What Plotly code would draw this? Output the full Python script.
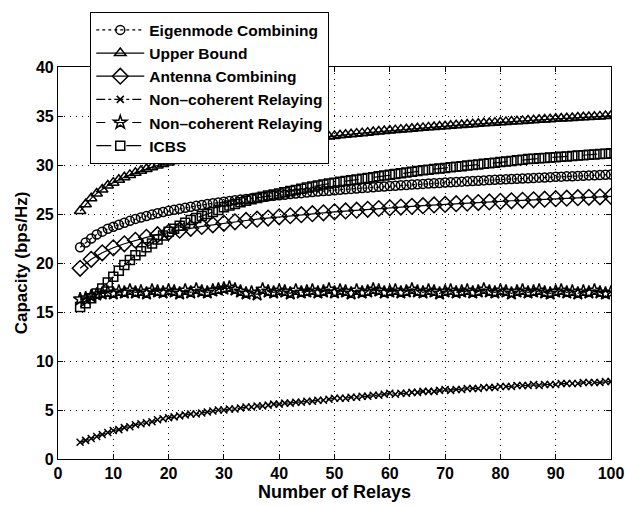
import plotly.graph_objects as go

relays = list(range(4, 101))
relays_even = list(range(4, 101, 2))

eigenmode = [21.6, 22.1, 22.5, 22.9, 23.2, 23.5, 23.7, 23.9, 24.1, 24.3,
             24.5, 24.65, 24.8, 24.94, 25.07, 25.2, 25.32, 25.43, 25.53, 25.64,
             25.74, 25.83, 25.92, 26.01, 26.09, 26.17, 26.25, 26.33, 26.4, 26.47,
             26.54, 26.61, 26.67, 26.73, 26.8, 26.86, 26.92, 26.97, 27.03, 27.08,
             27.13, 27.19, 27.24, 27.29, 27.34, 27.38, 27.43, 27.48, 27.52, 27.56,
             27.61, 27.65, 27.69, 27.73, 27.77, 27.81, 27.85, 27.89, 27.93, 27.96,
             28.0, 28.04, 28.07, 28.11, 28.14, 28.17, 28.21, 28.24, 28.27, 28.3,
             28.33, 28.37, 28.4, 28.43, 28.46, 28.49, 28.52, 28.54, 28.57, 28.6,
             28.63, 28.65, 28.68, 28.71, 28.73, 28.76, 28.79, 28.81, 28.84, 28.86,
             28.89, 28.91, 28.94, 28.96, 28.98, 29.01, 29.03]

upper_bound = [25.3, 26.0, 26.6, 27.1, 27.5, 27.9, 28.2, 28.5, 28.75, 28.99,
               29.2, 29.41, 29.6, 29.78, 29.95, 30.11, 30.26, 30.4, 30.54, 30.67,
               30.8, 30.92, 31.04, 31.15, 31.25, 31.36, 31.46, 31.56, 31.65, 31.74,
               31.83, 31.91, 32.0, 32.08, 32.16, 32.23, 32.31, 32.38, 32.45, 32.52,
               32.59, 32.66, 32.72, 32.79, 32.85, 32.91, 32.97, 33.03, 33.09, 33.14,
               33.2, 33.25, 33.3, 33.36, 33.41, 33.46, 33.51, 33.56, 33.61, 33.65,
               33.7, 33.75, 33.79, 33.84, 33.88, 33.92, 33.96, 34.01, 34.05, 34.09,
               34.13, 34.17, 34.21, 34.25, 34.28, 34.32, 34.36, 34.4, 34.43, 34.47,
               34.5, 34.54, 34.57, 34.61, 34.64, 34.68, 34.71, 34.74, 34.77, 34.8,
               34.84, 34.87, 34.9, 34.93, 34.96, 34.99, 35.02]

antenna = [19.46, 20.38, 21.04, 21.55, 21.96, 22.32, 22.62, 22.89, 23.13, 23.35,
           23.54, 23.73, 23.9, 24.05, 24.2, 24.34, 24.47, 24.59, 24.71, 24.82,
           24.93, 25.03, 25.12, 25.22, 25.31, 25.39, 25.48, 25.56, 25.63, 25.71,
           25.78, 25.85, 25.92, 25.98, 26.05, 26.11, 26.17, 26.23, 26.29, 26.35,
           26.4, 26.45, 26.51, 26.56, 26.61, 26.66, 26.7, 26.75, 26.8]

noncoh_x = [1.7, 1.9, 2.1, 2.3, 2.5, 2.7, 2.9, 3.0, 3.2, 3.3,
            3.5, 3.6, 3.7, 3.8, 4.0, 4.1, 4.2, 4.3, 4.4, 4.5,
            4.6, 4.6, 4.7, 4.8, 4.9, 5.0, 5.0, 5.1, 5.1, 5.2,
            5.3, 5.3, 5.4, 5.4, 5.5, 5.6, 5.6, 5.7, 5.7, 5.8,
            5.8, 5.9, 5.9, 6.0, 6.0, 6.1, 6.2, 6.2, 6.2, 6.3,
            6.3, 6.4, 6.4, 6.5, 6.5, 6.6, 6.7, 6.6, 6.7, 6.7,
            6.8, 6.8, 6.9, 6.9, 6.9, 7.0, 7.1, 7.0, 7.1, 7.1,
            7.2, 7.2, 7.2, 7.3, 7.3, 7.3, 7.4, 7.4, 7.4, 7.5,
            7.5, 7.5, 7.6, 7.5, 7.6, 7.6, 7.6, 7.7, 7.7, 7.7,
            7.7, 7.8, 7.8, 7.8, 7.8, 7.9, 7.9]

noncoh_star = [16.3, 16.4, 16.6, 16.8, 16.9, 17.0, 16.9, 17.1, 17.0, 17.2,
               17.0, 17.1, 16.9, 17.2, 17.1, 17.0, 17.2, 17.1, 16.9, 17.2,
               17.0, 17.3, 17.1, 17.0, 17.2, 17.3, 17.4, 17.5, 17.3, 17.1,
               16.9, 17.0, 16.8, 17.3, 17.1, 17.0, 17.2, 17.1, 16.9, 17.2,
               17.0, 17.1, 17.2, 17.0, 17.1, 17.3, 17.0, 17.2, 17.1, 16.9,
               17.2, 17.0, 17.1, 17.3, 17.2, 17.0, 17.1, 17.2, 17.0, 17.1,
               17.3, 17.1, 17.0, 17.2, 17.1, 16.9, 17.1, 17.2, 17.0, 17.1,
               17.2, 17.0, 17.1, 17.3, 17.1, 17.0, 17.2, 17.1, 16.9, 17.1,
               17.2, 17.0, 17.1, 17.2, 17.0, 16.9, 17.1, 17.2, 17.0, 17.1,
               16.9, 17.1, 17.0, 17.2, 17.0, 16.9, 17.0]

icbs = [15.5, 15.9, 16.4, 16.9, 17.4, 18.0, 18.6, 19.2, 19.8, 20.3,
        20.8, 21.2, 21.6, 22.0, 22.4, 22.8, 23.2, 23.5, 23.8, 24.1,
        24.4, 24.6, 24.8, 25.0, 25.2, 25.4, 25.7, 25.87, 26.03, 26.19,
        26.35, 26.5, 26.63, 26.76, 26.88, 27.0, 27.1, 27.22, 27.34, 27.46,
        27.58, 27.7, 27.8, 27.9, 28.0, 28.1, 28.2, 28.28, 28.36, 28.44,
        28.52, 28.6, 28.68, 28.76, 28.84, 28.92, 29.0, 29.08, 29.16, 29.24,
        29.32, 29.4, 29.46, 29.52, 29.58, 29.64, 29.7, 29.76, 29.82, 29.88,
        29.94, 30.0, 30.06, 30.12, 30.18, 30.24, 30.3, 30.36, 30.42, 30.48,
        30.54, 30.6, 30.64, 30.68, 30.72, 30.76, 30.8, 30.84, 30.88, 30.92,
        30.96, 31.0, 31.04, 31.08, 31.12, 31.16, 31.2]

x_ticks = [0, 10, 20, 30, 40, 50, 60, 70, 80, 90, 100]
y_ticks = [0, 5, 10, 15, 20, 25, 30, 35, 40]

series = [
    ("Eigenmode Combining", relays, eigenmode, "circle-open", 9, "dot"),
    ("Upper Bound", relays, upper_bound, "triangle-up-open", 10, "solid"),
    ("Antenna Combining", relays_even, antenna, "diamond-open", 12, "solid"),
    ("Non\u2013coherent Relaying", relays, noncoh_x, "x-thin-open", 7, "dashdot"),
    ("Non\u2013coherent Relaying", relays, noncoh_star, "star-open", 10, "dash"),
    ("ICBS", relays, icbs, "square-open", 9, "longdash"),
]

fig = go.Figure()
for i, (name, xs, ys, sym, size, dash) in enumerate(series):
    fig.add_trace(go.Scatter(
        x=xs, y=ys, name=name, mode="lines+markers",
        line=dict(color="black", width=1.2, dash=dash),
        marker=dict(symbol=sym, size=size, color="black",
                    line=dict(color="black", width=1.5)),
        legendgroup=f"g{i}",
    ))

font_family = "Liberation Sans, Arial, sans-serif"
axis_common = dict(
    showline=True, linecolor="black", linewidth=1.2, mirror="ticks",
    ticks="inside", ticklen=5, tickcolor="black",
    showgrid=True, gridcolor="black", griddash="1px,5px", gridwidth=1,
    zeroline=False, automargin=False,
    tickfont=dict(family=font_family, size=16, color="black", weight="bold"),
)

fig.update_layout(
    width=625, height=506,
    margin=dict(l=58, r=14, t=63, b=47),
    paper_bgcolor="white", plot_bgcolor="white",
    font=dict(family=font_family, color="black"),
    showlegend=True,
    legend=dict(
        x=0.058, y=1.14, xanchor="left", yanchor="top",
        bgcolor="white", bordercolor="black", borderwidth=1.2,
        font=dict(family=font_family, size=15.5, color="black", weight="bold"),
        tracegroupgap=0, traceorder="grouped", itemwidth=48,
    ),
)
fig.update_xaxes(range=[0, 100], tickvals=x_ticks, **axis_common,
                 title=dict(text="Number of Relays", standoff=1,
                            font=dict(family=font_family, size=18, color="black", weight="bold")))
fig.update_yaxes(range=[0, 40], tickvals=y_ticks, **axis_common,
                 title=dict(text="Capacity (bps/Hz)", standoff=3,
                            font=dict(family=font_family, size=17, color="black", weight="bold")))

fig.write_html("out.html", config={"displayModeBar": False},
               post_script="document.body.style.margin='0px';document.body.style.padding='0px';")
